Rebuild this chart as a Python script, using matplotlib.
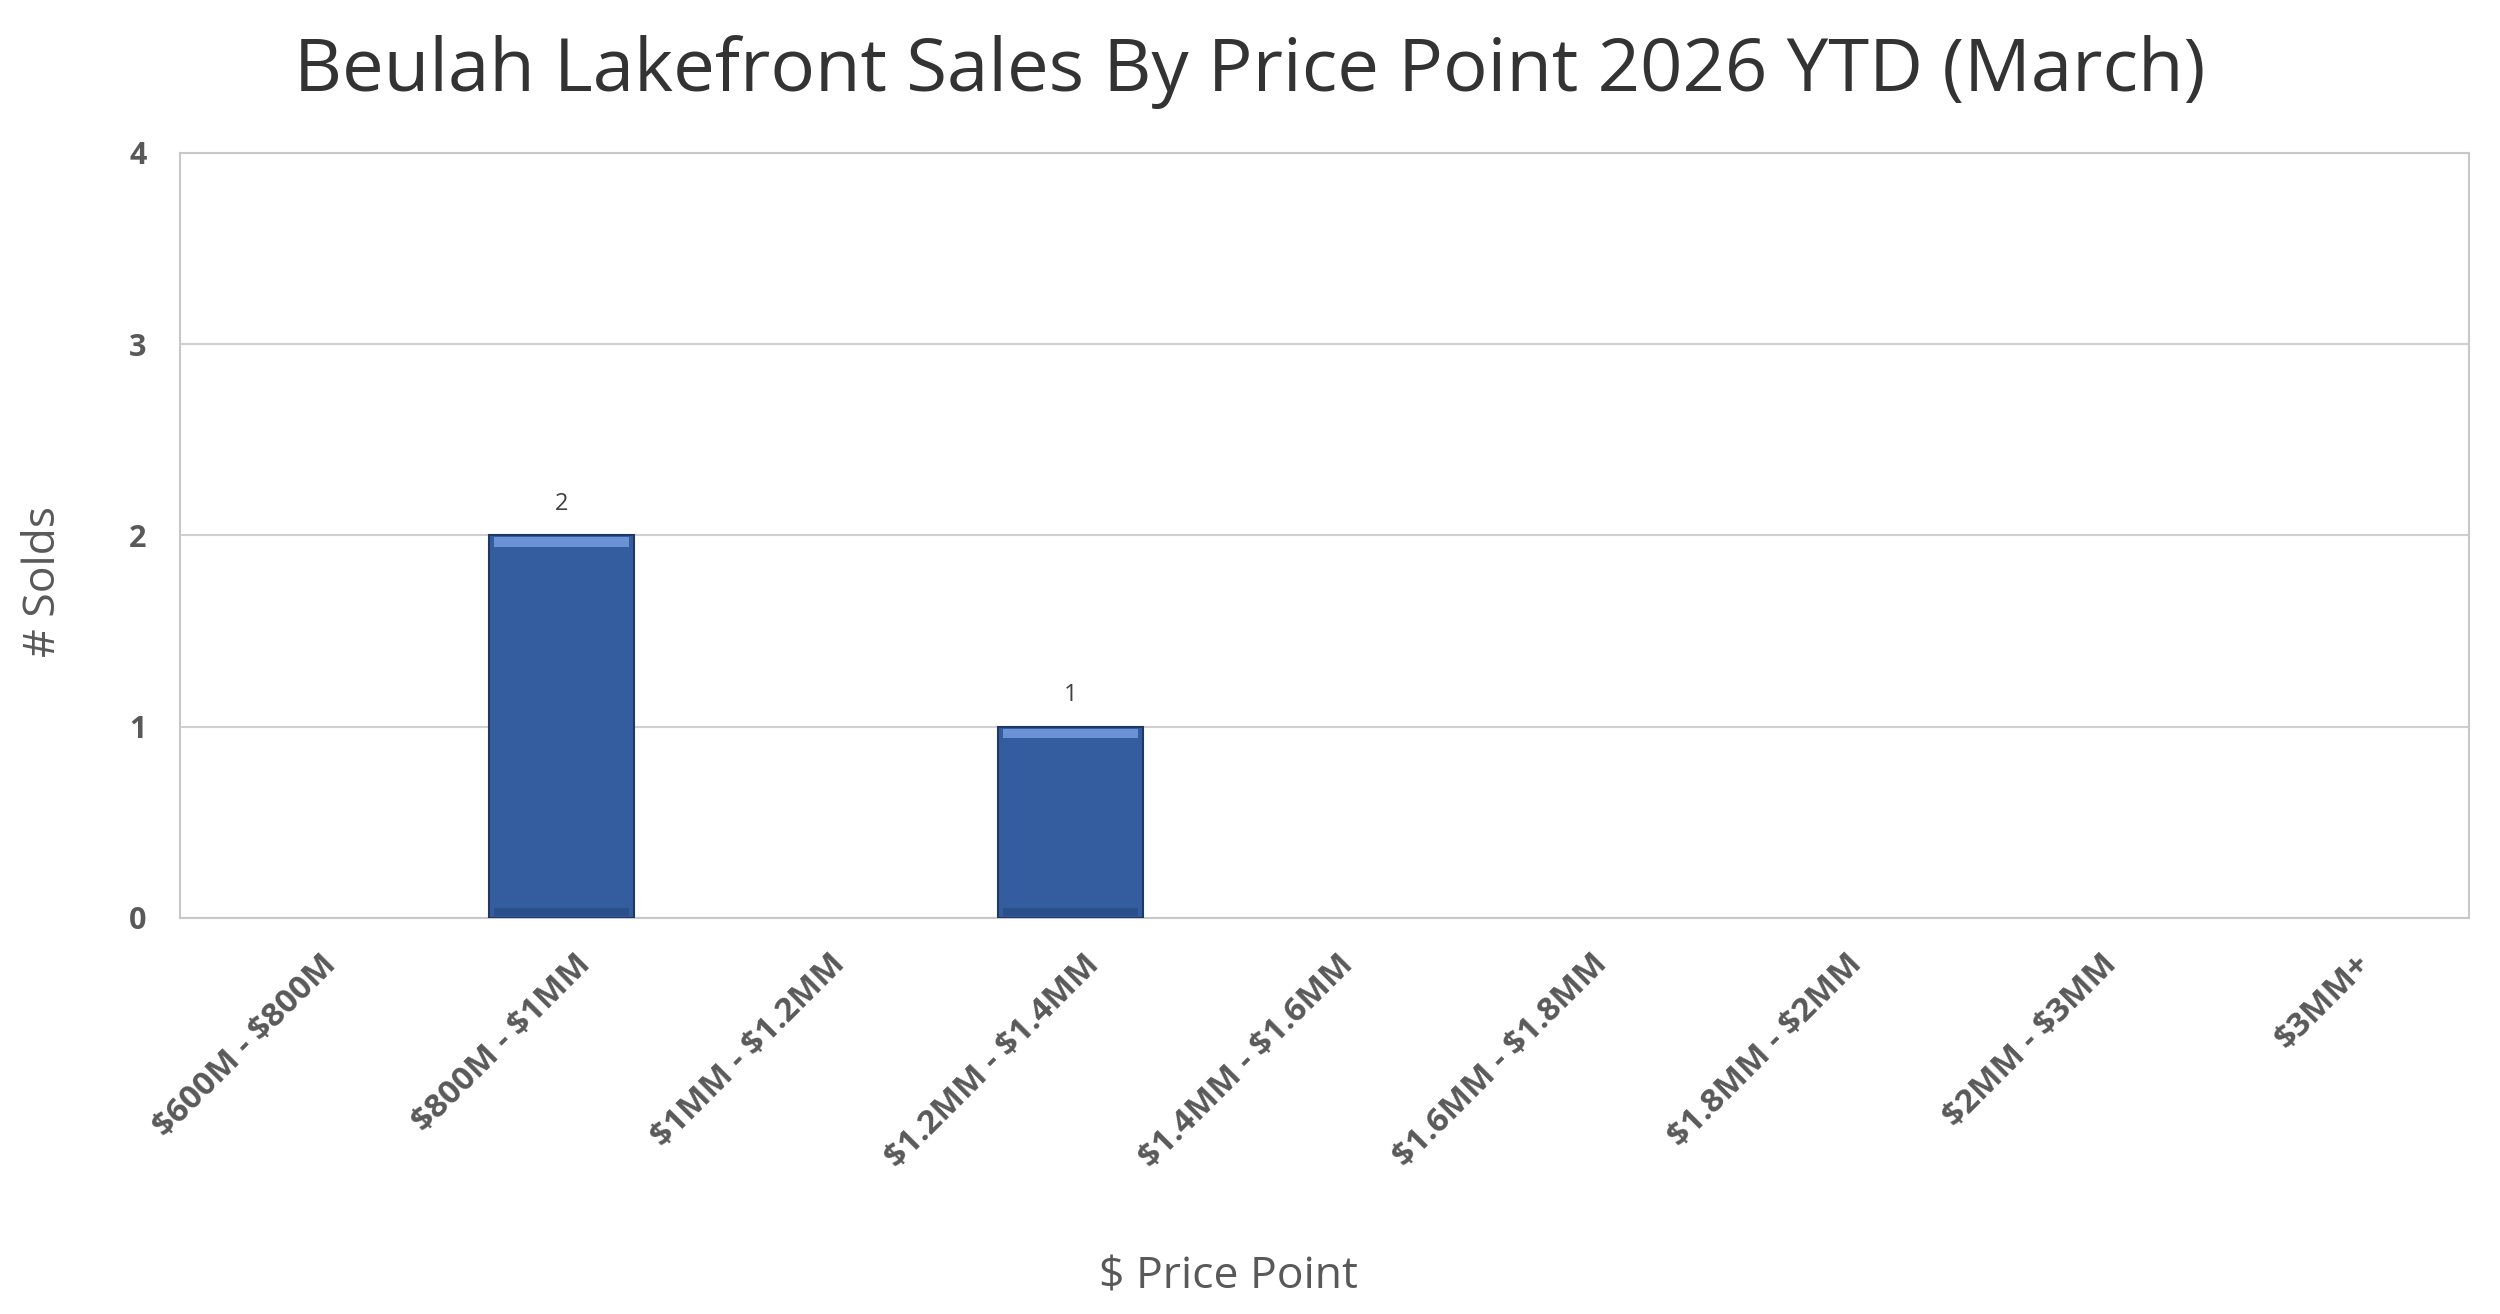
import numpy as np
import matplotlib
matplotlib.use("Agg")
import matplotlib.pyplot as plt
import matplotlib.transforms as mtransforms

# chart data
price_points = ["$600M - $800M", "$800M - $1MM", "$1MM - $1.2MM", "$1.2MM - $1.4MM",
                "$1.4MM - $1.6MM", "$1.6MM - $1.8MM", "$1.8MM - $2MM", "$2MM - $3MM", "$3MM+"]
solds = [0, 2, 0, 1, 0, 0, 0, 0, 0]
y_ticks = [0, 1, 2, 3, 4]

plt.rcParams["font.family"] = ["Open Sans", "DejaVu Sans"]
plt.rcParams["text.parse_math"] = False

fig = plt.figure(figsize=(25, 13.14), dpi=100)
ax = fig.add_axes([0.072, 0.3014, 0.9156, 0.5822])

x = np.arange(len(price_points))
values = np.array(solds, dtype=float)
shown = values > 0

# main bars (only non-zero ones, so empty categories show nothing)
ax.bar(x[shown], values[shown], width=0.57, color="#345D9F", edgecolor="#1F3864",
       linewidth=1.5, zorder=3)
# bevel highlight along the top, darker strip at the bottom
ax.bar(x[shown], np.full(shown.sum(), 0.05), bottom=values[shown] - 0.06, width=0.53,
       color="#6A92D4", linewidth=0, zorder=4)
ax.bar(x[shown], np.full(shown.sum(), 0.04), bottom=0.01, width=0.53,
       color="#2B4F8A", linewidth=0, zorder=4)

# data labels
for xi, v in zip(x, solds):
    if v > 0:
        ax.annotate(str(v), (xi, v), xytext=(0, 14), textcoords="offset points",
                    ha="center", va="bottom", fontsize=17, color="#404040")

ax.set_xlim(-0.5, len(price_points) - 0.5)
ax.set_ylim(0, 4)
ax.set_yticks(y_ticks)
ax.set_yticklabels([str(t) for t in y_ticks], fontsize=22, fontweight="bold", color="#595959")
ax.set_xticks(x)
ax.set_xticklabels(price_points, rotation=45, ha="right", va="center", rotation_mode="anchor",
                   fontsize=24, fontweight="bold", color="#595959")
ax.tick_params(axis="both", length=0)
ax.tick_params(axis="x", pad=30)
ax.tick_params(axis="y", pad=24)

# nudge the rotated labels right, like the original
shift = mtransforms.ScaledTranslation(24 / 100, 0, fig.dpi_scale_trans)
for lab in ax.get_xticklabels():
    lab.set_transform(lab.get_transform() + shift)

ax.grid(axis="y", color="#D0D0D0", linewidth=1.5, zorder=0)
for s in ax.spines.values():
    s.set_color("#C8C8C8")
    s.set_linewidth(1.5)

ax.set_ylabel("# Solds", fontsize=32, color="#595959")
ax.yaxis.set_label_coords(-0.050, 0.44)
ax.set_xlabel("$ Price Point", fontsize=32, color="#595959")
ax.xaxis.set_label_coords(0.458, -0.44)

fig.text(0.5, 0.945, "Beulah Lakefront Sales By Price Point 2026 YTD (March)",
         ha="center", va="center", fontsize=53.5, color="#333333")

fig.savefig("out.png", dpi=100, facecolor="white")
